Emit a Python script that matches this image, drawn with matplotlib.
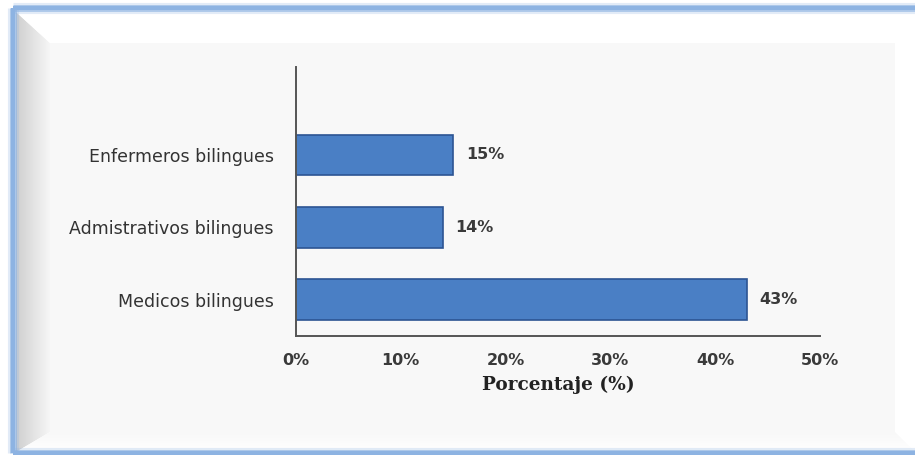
import numpy as np
import matplotlib.pyplot as plt
from matplotlib.patches import Polygon, Rectangle

# porcentaje de personal bilingue por categoria
categorias = ['Medicos bilingues', 'Admistrativos bilingues', 'Enfermeros bilingues']
porcentajes = [43, 14, 15]
ticks_x = [0, 10, 20, 30, 40, 50]

fig = plt.figure(figsize=(9.15, 4.55), dpi=100)
fig.patch.set_facecolor('white')

# fondo con marco biselado (coordenadas en pixeles)
bg = fig.add_axes([0, 0, 1, 1])
bg.set_xlim(0, 915)
bg.set_ylim(455, 0)
bg.axis('off')

bg.add_patch(Rectangle((50, 43), 845, 389, facecolor='#f8f8f8', edgecolor='none'))

def degradado(poly, c0, c1, horizontal=True):
    patch = Polygon(poly, closed=True, facecolor='none', edgecolor='none')
    bg.add_patch(patch)
    g = np.linspace(0, 1, 256)
    g = g[None, :] if horizontal else g[:, None]
    xs = [p[0] for p in poly]
    ys = [p[1] for p in poly]
    c0 = np.array(plt.matplotlib.colors.to_rgb(c0))
    c1 = np.array(plt.matplotlib.colors.to_rgb(c1))
    img = c0 + (c1 - c0) * g[..., None]
    im = bg.imshow(img, extent=[min(xs), max(xs), max(ys), min(ys)],
                   aspect='auto', zorder=1)
    im.set_clip_path(patch)

# bisel izquierdo (oscuro), inferior y superior (claros)
degradado([(16, 12), (50, 43), (50, 432), (16, 452)], '#cfcfcf', '#f6f6f6')
degradado([(16, 452), (50, 432), (895, 432), (915, 452)], '#f8f8f8', '#ffffff', horizontal=False)
bg.add_patch(Polygon([(16, 12), (915, 12), (895, 43), (50, 43)], closed=True,
                     facecolor='white', edgecolor='none', zorder=2))

# borde azul
for lw, a in [(8, 0.25), (5, 0.6), (3, 1.0)]:
    bg.plot([13, 13], [8, 453], color='#8db3e2', lw=lw, alpha=a, solid_capstyle='butt', zorder=3)
    bg.plot([13, 915], [8, 8], color='#8db3e2', lw=lw, alpha=a, solid_capstyle='butt', zorder=3)
    bg.plot([13, 915], [453, 453], color='#8db3e2', lw=lw, alpha=a, solid_capstyle='butt', zorder=3)

# grafico de barras
ax = fig.add_axes([296 / 915, 1 - 336 / 455, 524 / 915, 269 / 455])
ax.patch.set_alpha(0)
y = np.arange(len(categorias))
ax.barh(y, porcentajes, height=0.565, color='#4a7fc5', edgecolor='#2c5493', linewidth=1.2)

for yi, v in zip(y, porcentajes):
    ax.text(v + 1.2, yi, f'{v}%', va='center', ha='left', fontsize=11.5,
            fontweight='bold', color='#3a3a3a', family='DejaVu Sans')

ax.set_xlim(0, 50)
ax.set_ylim(-0.497, 3.214)
ax.set_xticks(ticks_x)
ax.set_xticklabels([f'{t}%' for t in ticks_x], fontsize=11.5, fontweight='bold',
                   color='#3a3a3a', family='DejaVu Sans')
ax.set_yticks(y)
ax.set_yticklabels(categorias, fontsize=12.5, color='#333333', family='DejaVu Sans')
ax.tick_params(axis='both', length=0)
ax.tick_params(axis='x', pad=12)
ax.tick_params(axis='y', pad=16)
for s in ['top', 'right']:
    ax.spines[s].set_visible(False)
for s in ['left', 'bottom']:
    ax.spines[s].set_color('#555555')
    ax.spines[s].set_linewidth(1.4)

ax.set_xlabel('Porcentaje (%)', fontsize=13.3, fontweight='bold', family='DejaVu Serif',
              color='#222222', labelpad=6)

fig.savefig('out.png', dpi=100, facecolor='white')
